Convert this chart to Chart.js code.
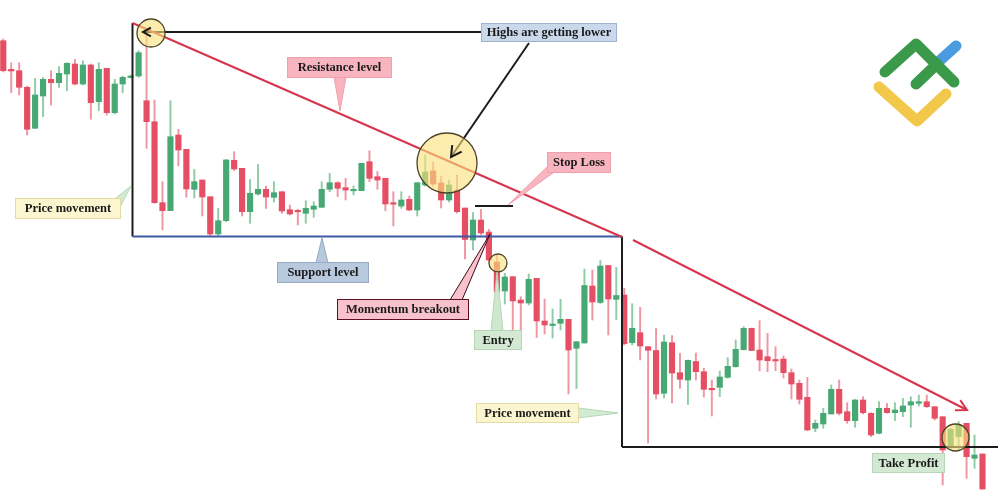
<!DOCTYPE html>
<html lang="en">
<head>
<meta charset="UTF-8">
<title>Descending triangle breakout</title>
<style>
  html, body { margin: 0; padding: 0; background: #fff; }
  #wrap { position: relative; width: 1000px; height: 502px; }
</style>
</head>
<body>
<div id="wrap"><canvas id="chart"></canvas></div>

<script src="https://cdn.jsdelivr.net/npm/chart.js"></script>
<script>
// candle levels; the price axis is reversed,
// so a smaller number sits higher on the chart
const open = [40.7, 69.3, 70.7, 87.3, 128.3, 96, 79.3, 82.7, 74, 64,
  84, 65, 101.7, 68.3, 112.7, 84, 77.5, 76, 100.7, 121.7,
  202.7, 210.7, 135, 149.3, 189.3, 180, 196.7, 234, 220.7, 160.3,
  168.3, 211.7, 194, 189.3, 197.3, 191.7, 209.7, 210.3, 213.3, 209.3,
  207.3, 189.3, 182.7, 187.7, 190.7, 190.7, 161.7, 176.7, 178.3, 202.7,
  206, 199.3, 210, 185, 171, 183, 200, 190, 208, 240,
  220, 232, 262, 291, 276.7, 300, 303, 278.3, 321, 325.3,
  323.3, 319.3, 348.3, 343, 286, 302.5, 265.5, 299.3, 295, 342.7,
  332.7, 346.7, 350.5, 393.3, 342.7, 372.7, 380, 361.5, 371.7, 388.3,
  387.3, 377.3, 366.7, 349.7, 328.3, 350, 356.7, 359.5, 359, 372.7,
  383.3, 397.3, 428.3, 424, 414, 389.3, 411.7, 420.7, 400, 413.3,
  433.3, 408.3, 412.7, 411.7, 405, 403.3, 401.7, 406.7, 416.7, 446.7,
  436.7, 423.3, 458.3, 454];
const close = [70.7, 71, 87.3, 129.3, 95, 79.3, 82.7, 73.3, 63.3, 84,
  65, 102.7, 69.3, 112.7, 84, 77.3, 76, 52.7, 121.7, 202.7,
  210.7, 136.7, 150, 189, 181.7, 197, 234, 220.7, 160, 169,
  211.7, 193.3, 189.3, 197, 192.7, 211, 214, 211.2, 208.3, 206,
  189.3, 182.7, 188.3, 190, 189.3, 163.3, 178.3, 180, 204, 204,
  200, 210, 182.7, 172, 184, 200, 185, 211.7, 239.5, 220,
  233, 260, 292, 277, 301, 303, 279.3, 321, 325, 324,
  319.3, 350, 341.7, 285.5, 302, 266, 299, 295.5, 343.7, 328.3,
  346, 350.3, 394, 342, 373, 379.3, 360.3, 371.7, 389.3, 389.5,
  377, 366.3, 349.3, 328.3, 350.5, 360, 360.7, 360.5, 372.7, 384,
  399.3, 430, 423.3, 413.3, 389.3, 413.3, 420.7, 400, 412.7, 435,
  408.3, 412.7, 410, 406, 401.7, 401.7, 406.7, 418.3, 450, 429.3,
  425, 456.7, 455, 489];
const high = [39, 62.7, 62.7, 86, 78.3, 77.3, 70.7, 66.7, 62.7, 59.3,
  60.7, 64, 62.7, 68.3, 79.3, 76, 75, 50.7, 32, 100,
  181.7, 100.7, 129.3, 149.3, 169.3, 180, 196.7, 208.3, 159.3, 151.7,
  168.3, 179.5, 164.5, 186, 181.7, 191.7, 205, 209.3, 200.7, 201.7,
  181.7, 173.3, 181.7, 178.3, 186, 163.3, 150.7, 171.7, 178.3, 191.7,
  191.7, 196, 182.7, 155, 162, 176, 180, 175, 208, 212.5,
  209.3, 229.3, 255, 273.3, 276.7, 296.7, 274, 278.3, 299, 309,
  299.3, 319.3, 341.7, 269, 270, 260.5, 265.5, 267.5, 288.3, 303.7,
  307.3, 346.7, 328.3, 335, 335.5, 353.3, 360, 353, 368.3, 380,
  371.2, 357.5, 340, 326.7, 328, 320.7, 333.3, 346.7, 356, 369,
  380, 377.3, 420, 408.3, 385, 380, 402.7, 399.5, 396.7, 412.7,
  401.7, 403.3, 402.7, 398.3, 396.7, 395, 395, 406.7, 416.7, 428.3,
  421.7, 423.3, 435, 454];
const low = [72, 92.7, 95, 135, 128.3, 116.7, 105, 87.3, 90.7, 85,
  85, 119.3, 110.7, 115, 114, 92.7, 78, 77.3, 148.3, 203.3,
  230, 210.7, 166, 197.3, 198, 216, 236.5, 236.5, 221.7, 170.5,
  216, 223.3, 195, 208.3, 202, 213.3, 215, 225, 223.3, 217.3,
  207.3, 191.7, 196.7, 200, 195, 190.7, 181.7, 189.3, 210.7, 226,
  208.3, 210.7, 216, 186, 186, 208, 202, 213, 259, 250,
  235, 262, 293, 304, 330, 331, 305, 337.5, 334, 338,
  330, 394, 388.5, 343, 320, 303.5, 335, 319.5, 345, 345,
  360, 443, 399, 398, 403, 388.3, 404.5, 380, 397, 416,
  396.7, 378.3, 367.3, 350, 350.7, 371, 371.7, 370.7, 378, 399,
  404, 430.7, 431.7, 428.3, 414, 415, 423.3, 427.3, 414, 436.7,
  434, 413.3, 420.7, 416.7, 427.3, 406, 407.5, 420, 485, 448.3,
  450, 478.3, 468.3, 489.3];

const UP = '#47a874', DOWN = '#e64f63';
const UP_WICK = '#8fcca6', DOWN_WICK = '#ef96a3';

const isUp = open.map((o, i) => close[i] < o);
const bodies = open.map((o, i) => ({ x: i, y: [o, close[i]] }));
const wicks = high.map((h, i) => ({ x: i, y: [h, low[i]] }));

// drawn guide lines live on a second pair of hidden axes (xp / yp)
function guide(points, color, width) {
  return {
    type: 'line',
    data: points.map(([x, y]) => ({ x, y })),
    xAxisID: 'xp', yAxisID: 'yp',
    borderColor: color, borderWidth: width,
    pointRadius: 0, fill: false, tension: 0, order: 0
  };
}

const RED = '#d8344c', BLUE = '#3e5ba6', INK = '#1c1c1c';

const circles = [[151, 33, 14], [447, 163, 30], [498, 263, 9], [955.5, 437.5, 13.5]];

const notes = [
  { text: 'Highs are getting lower', box: [481, 23, 617, 42], fill: '#c9d8eb', edge: '#9fb2cd' },
  { text: 'Resistance level', box: [287, 57, 392, 78], fill: '#f8b4bf', edge: '#eea1ad',
    tail: [[334, 77], [346, 77], [340, 111]], tailFill: '#f8b4bf', tailEdge: '#eea1ad' },
  { text: 'Stop Loss', box: [547, 152, 611, 173], fill: '#f8b4bf', edge: '#eea1ad',
    tail: [[549, 165], [553, 173], [508, 205]], tailFill: '#f8b4bf', tailEdge: '#eea1ad' },
  { text: 'Price movement', box: [15, 198, 121, 219], fill: '#fbf6cf', edge: '#e2dba4',
    tail: [[116, 198], [121, 205], [131, 186]], tailFill: '#d3ead3', tailEdge: '#b4d8b4' },
  { text: 'Support level', box: [277, 262, 369, 283], fill: '#b9c9dd', edge: '#95a9c4',
    tail: [[316, 263], [328, 263], [322, 238]], tailFill: '#b9c9dd', tailEdge: '#95a9c4' },
  { text: 'Momentum breakout', box: [337, 299, 469, 320], fill: '#f8c2cc', edge: '#5e1020',
    tail: [[450, 300], [462, 300], [490, 234]], tailFill: '#f8c2cc', tailEdge: '#3a0a14' },
  { text: 'Entry', box: [474, 330, 522, 350], fill: '#d3e9d3', edge: '#b5d6b5',
    tail: [[491, 331], [503, 331], [497, 272]], tailFill: '#cfe6cf', tailEdge: '#b5d6b5' },
  { text: 'Price movement', box: [476, 403, 579, 423], fill: '#fbf6cf', edge: '#e2dba4',
    tail: [[578, 408], [578, 418], [618, 413]], tailFill: '#d3ead3', tailEdge: '#b4d8b4' },
  { text: 'Take Profit', box: [872, 453, 945, 473], fill: '#d3e9d3', edge: '#b5d6b5' }
];

const overlay = {
  id: 'overlay',
  afterDatasetsDraw(chart) {
    const ctx = chart.ctx;
    const X = v => chart.scales.xp.getPixelForValue(v);
    const Y = v => chart.scales.yp.getPixelForValue(v);
    ctx.save();

    // highlight circles
    circles.forEach(([cx, cy, r]) => {
      ctx.beginPath();
      ctx.arc(X(cx), Y(cy), r, 0, Math.PI * 2);
      ctx.fillStyle = 'rgba(250, 226, 125, 0.62)';
      ctx.fill();
      ctx.lineWidth = 1.3;
      ctx.strokeStyle = '#4a4526';
      ctx.stroke();
    });

    // arrow heads
    function head(x1, y1, x2, y2, len, color, width) {
      const a = Math.atan2(Y(y2) - Y(y1), X(x2) - X(x1));
      ctx.beginPath();
      ctx.moveTo(X(x2) - len * Math.cos(a - 0.5), Y(y2) - len * Math.sin(a - 0.5));
      ctx.lineTo(X(x2), Y(y2));
      ctx.lineTo(X(x2) - len * Math.cos(a + 0.5), Y(y2) - len * Math.sin(a + 0.5));
      ctx.strokeStyle = color;
      ctx.lineWidth = width;
      ctx.stroke();
    }
    head(633, 240, 967, 410, 12, RED, 2);
    head(529, 43, 451, 157, 12, INK, 2);
    head(481, 32, 143, 32, 9, INK, 2);

    // callout boxes
    ctx.font = 'bold 12.5px "Liberation Serif", "DejaVu Serif", serif';
    ctx.textAlign = 'center';
    ctx.textBaseline = 'middle';
    notes.forEach(n => {
      if (n.tail) {
        ctx.beginPath();
        n.tail.forEach(([x, y], k) => k ? ctx.lineTo(X(x), Y(y)) : ctx.moveTo(X(x), Y(y)));
        ctx.closePath();
        ctx.fillStyle = n.tailFill;
        ctx.fill();
        ctx.lineWidth = 1;
        ctx.strokeStyle = n.tailEdge;
        ctx.stroke();
      }
      const [x0, y0, x1, y1] = n.box;
      ctx.fillStyle = n.fill;
      ctx.fillRect(X(x0), Y(y0), X(x1) - X(x0), Y(y1) - Y(y0));
      ctx.lineWidth = 1;
      ctx.strokeStyle = n.edge;
      ctx.strokeRect(X(x0) + 0.5, Y(y0) + 0.5, X(x1) - X(x0) - 1, Y(y1) - Y(y0) - 1);
      ctx.fillStyle = '#1a1a1a';
      ctx.fillText(n.text, (X(x0) + X(x1)) / 2, (Y(y0) + Y(y1)) / 2 + 0.5);
    });

    // logo, top right
    ctx.lineCap = 'round';
    ctx.lineJoin = 'round';
    ctx.lineWidth = 11;
    function stroke(pts, color) {
      ctx.beginPath();
      pts.forEach(([x, y], k) => k ? ctx.lineTo(X(x), Y(y)) : ctx.moveTo(X(x), Y(y)));
      ctx.strokeStyle = color;
      ctx.stroke();
    }
    stroke([[879, 87], [917, 121], [946, 94]], '#f2c84b');
    stroke([[936, 64], [956, 46]], '#4a9be0');
    stroke([[916, 84], [937, 64]], '#3a9a4a');
    stroke([[885, 72], [916, 44], [954, 82]], '#3a9a4a');

    ctx.restore();
  }
};

new Chart(document.getElementById('chart'), {
  type: 'bar',
  data: {
    datasets: [
      guide([[132.5, 23], [622, 237]], RED, 2),
      guide([[633, 240], [967, 410]], RED, 2),
      guide([[132.5, 236.5], [622, 236.5]], BLUE, 2),
      guide([[132.5, 23], [132.5, 236.5]], INK, 2),
      guide([[622, 236.5], [622, 447]], INK, 2),
      guide([[622, 447], [998, 447]], INK, 2),
      guide([[475, 206], [513, 206]], INK, 2),
      guide([[481, 32], [143, 32]], INK, 2),
      guide([[529, 43], [451, 157]], INK, 2),
      {
        label: 'body',
        data: bodies,
        backgroundColor: isUp.map(u => u ? UP : DOWN),
        barThickness: 5.5,
        minBarLength: 1.5,
        grouped: false,
        order: 1
      },
      {
        label: 'wick',
        data: wicks,
        backgroundColor: isUp.map(u => u ? UP_WICK : DOWN_WICK),
        barThickness: 1.3,
        grouped: false,
        order: 2
      }
    ]
  },
  options: {
    responsive: true,
    maintainAspectRatio: false,
    animation: false,
    events: [],
    layout: { padding: 0 },
    plugins: { legend: { display: false }, tooltip: { enabled: false } },
    scales: {
      x: { type: 'linear', min: -0.41, max: 125.2, offset: false, display: false },
      y: { type: 'linear', min: 0, max: 502, reverse: true, display: false },
      xp: { axis: 'x', type: 'linear', min: 0, max: 1000, offset: false, display: false },
      yp: { axis: 'y', type: 'linear', min: 0, max: 502, reverse: true, display: false }
    }
  },
  plugins: [overlay]
});
</script>
</body>
</html>
